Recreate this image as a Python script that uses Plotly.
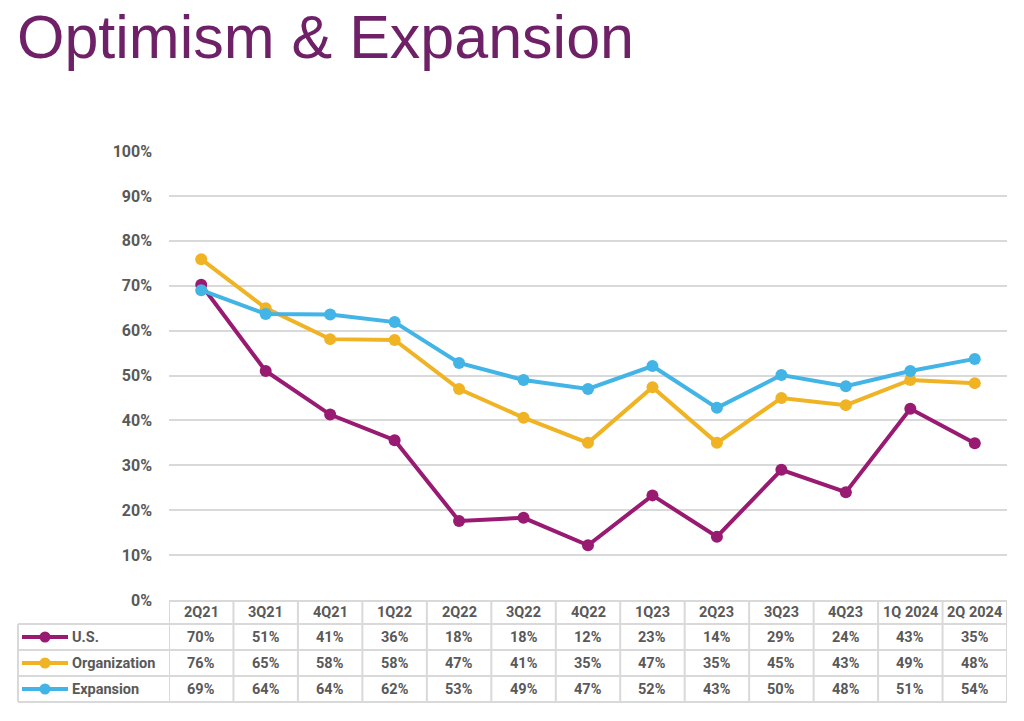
import plotly.graph_objects as go

quarters = ["2Q21", "3Q21", "4Q21", "1Q22", "2Q22", "3Q22", "4Q22",
            "1Q23", "2Q23", "3Q23", "4Q23", "1Q 2024", "2Q 2024"]
us = [70.2, 51.0, 41.3, 35.6, 17.6, 18.3, 12.2, 23.3, 14.1, 29.0, 24.0, 42.6, 34.9]
organization = [75.9, 65.0, 58.1, 57.9, 47.0, 40.6, 35.0, 47.4, 35.0, 45.0, 43.4, 49.0, 48.3]
expansion = [69.0, 63.7, 63.6, 61.9, 52.8, 49.0, 47.0, 52.1, 42.8, 50.1, 47.6, 51.0, 53.7]
series_names = ["U.S.", "Organization", "Expansion"]
series_colors = ["#981A71", "#F0B323", "#42B4E6"]
y_ticks = [0, 10, 20, 30, 40, 50, 60, 70, 80, 90, 100]

W, H = 1024, 721
# plot area in screen pixels
PL, PR, PT, PB = 169, 1007, 151, 600
ML, MT = PL, PT
MR, MB = W - PR, H - PB
PW, PH = PR - PL, PB - PT

def px_x(px):
    return (px - PL) / PW

def px_y(py):
    return (PB - py) / PH

TXT = "#595959"
GRID = "#d9d9d9"
FONT = "Roboto"

fig = go.Figure()
for name, vals, col in zip(series_names, [us, organization, expansion], series_colors):
    fig.add_trace(go.Scatter(
        x=quarters, y=vals, name=name, mode="lines+markers",
        line=dict(color=col, width=4), marker=dict(color=col, size=12),
        cliponaxis=False, showlegend=False))

shapes = []
annotations = []

header_top, header_bot = 601, 624
row_edges = [624, 650, 676, 702]
left_px = 18
n = len(quarters)

line_style = dict(color=GRID, width=2)
shapes.append(dict(type="line", xref="x", yref="paper", x0=-0.5, x1=n - 0.5,
                   y0=px_y(header_top), y1=px_y(header_top), line=line_style))
for e in row_edges:
    shapes.append(dict(type="line", xref="paper", yref="paper", x0=px_x(left_px), x1=1,
                       y0=px_y(e), y1=px_y(e), line=line_style))
for i in range(n + 1):
    shapes.append(dict(type="line", xref="x", yref="paper", x0=i - 0.5, x1=i - 0.5,
                       y0=px_y(header_top), y1=px_y(row_edges[-1]), line=line_style))
shapes.append(dict(type="line", xref="paper", yref="paper", x0=px_x(left_px), x1=px_x(left_px),
                   y0=px_y(row_edges[0]), y1=px_y(row_edges[-1]), line=line_style))

cell_font = dict(family=FONT, size=14.5, color=TXT, weight="bold")
hc = (header_top + header_bot) / 2
for i, q in enumerate(quarters):
    annotations.append(dict(x=q, xref="x", y=px_y(hc), yref="paper", text=q,
                            showarrow=False, font=cell_font, xanchor="center", yanchor="middle"))

for r, (name, vals, col) in enumerate(zip(series_names, [us, organization, expansion], series_colors)):
    cy = (row_edges[r] + row_edges[r + 1]) / 2
    for i, q in enumerate(quarters):
        annotations.append(dict(x=q, xref="x", y=px_y(cy), yref="paper",
                                text=f"{round(vals[i])}%", showarrow=False, font=cell_font,
                                xanchor="center", yanchor="middle"))
    shapes.append(dict(type="line", xref="paper", yref="paper", x0=px_x(22), x1=px_x(68),
                       y0=px_y(cy), y1=px_y(cy), line=dict(color=col, width=4)))
    shapes.append(dict(type="circle", xref="paper", yref="paper", xsizemode="pixel", ysizemode="pixel",
                       xanchor=px_x(45), yanchor=px_y(cy), x0=-5.5, x1=5.5, y0=-5.5, y1=5.5,
                       fillcolor=col, line=dict(width=0)))
    annotations.append(dict(x=px_x(70), xref="paper", y=px_y(cy), yref="paper", text=name,
                            showarrow=False, font=cell_font, xanchor="left", yanchor="middle"))

annotations.append(dict(x=px_x(15), xref="paper", y=px_y(37), yref="paper",
                        text="Optimism & Expansion", showarrow=False,
                        font=dict(family="Liberation Sans", size=61, color="#6F2167"),
                        xanchor="left", yanchor="middle"))

fig.update_layout(
    width=W, height=H,
    margin=dict(l=ML, r=MR, t=MT, b=MB),
    paper_bgcolor="white", plot_bgcolor="white",
    shapes=shapes, annotations=annotations,
    xaxis=dict(type="category", range=[-0.5, n - 0.5], showticklabels=False,
               showgrid=False, zeroline=False, showline=False, ticks=""),
    yaxis=dict(range=[0, 100], tickvals=y_ticks, ticktext=[f"{v}%" for v in y_ticks],
               showgrid=True, gridcolor=GRID, gridwidth=1.5, zeroline=False, showline=False,
               ticks="", ticklabelstandoff=16,
               tickfont=dict(family=FONT, size=16, color=TXT, weight="bold")),
)

fig.write_html("out.html", config={"displayModeBar": False},
               post_script="document.body.style.margin='0';")
